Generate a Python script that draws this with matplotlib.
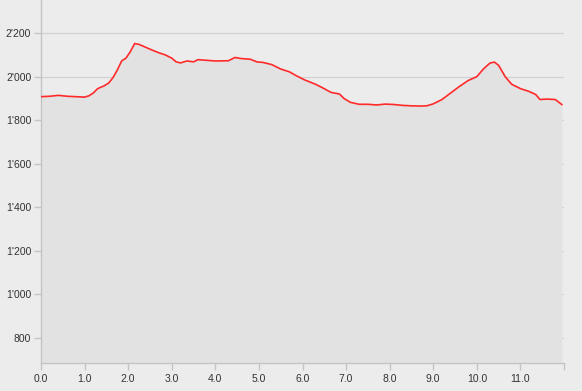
import matplotlib.pyplot as plt
from matplotlib.ticker import FuncFormatter

# elevation profile (km, m)
dist_km = [0.0, 0.2, 0.4, 0.6, 0.8, 1.0, 1.1, 1.2, 1.3, 1.45, 1.55, 1.65, 1.75,
           1.85, 1.95, 2.05, 2.15, 2.25, 2.4, 2.55, 2.7, 2.85, 3.0, 3.1, 3.2,
           3.35, 3.5, 3.6, 3.8, 4.0, 4.3, 4.45, 4.6, 4.8, 4.95, 5.1, 5.3, 5.5,
           5.7, 5.85, 6.05, 6.3, 6.45, 6.65, 6.85, 6.95, 7.1, 7.3, 7.5, 7.7,
           7.9, 8.1, 8.3, 8.5, 8.7, 8.85, 9.0, 9.2, 9.4, 9.6, 9.8, 10.0, 10.15,
           10.3, 10.4, 10.5, 10.65, 10.8, 11.0, 11.2, 11.35, 11.45, 11.6, 11.8,
           11.95]
elev_m = [1908, 1910, 1914, 1910, 1908, 1906, 1912, 1925, 1945, 1958, 1970,
          1995, 2030, 2072, 2085, 2115, 2152, 2148, 2135, 2122, 2110, 2100,
          2085, 2068, 2063, 2072, 2068, 2078, 2075, 2072, 2073, 2088, 2083,
          2080, 2068, 2065, 2055, 2035, 2022, 2005, 1985, 1965, 1950, 1928,
          1920, 1900, 1882, 1873, 1873, 1870, 1874, 1872, 1868, 1866, 1865,
          1866, 1875, 1895, 1925, 1955, 1982, 2000, 2035, 2062, 2067, 2052,
          2000, 1965, 1945, 1932, 1918, 1895, 1897, 1895, 1872]

x_ticks = [0, 1, 2, 3, 4, 5, 6, 7, 8, 9, 10, 11, 12]
y_ticks = [800, 1000, 1200, 1400, 1600, 1800, 2000, 2200]

plt.rcParams['font.family'] = ['Liberation Sans', 'DejaVu Sans']

fig = plt.figure(figsize=(5.82, 3.91), dpi=100, facecolor='#ececec')
ax = fig.add_axes([41 / 582, 28 / 391, 523 / 582, 363 / 391])
ax.set_facecolor('#ececec')

ax.fill_between(dist_km, elev_m, 680, color='#e2e2e2', zorder=2, lw=0)
ax.plot(dist_km, elev_m, color='#ff2a2a', lw=1.2, zorder=3)

ax.set_xlim(0, 12)
ax.set_ylim(685, 2352)
ax.set_xticks(x_ticks)
ax.set_xticklabels([f"{t:.1f}" for t in x_ticks[:-1]] + [""])
ax.set_yticks(y_ticks)
ax.yaxis.set_major_formatter(FuncFormatter(lambda v, p: f"{int(v):,}".replace(",", "'")))

ax.grid(axis='y', color='#d2d2d2', lw=0.9, zorder=1)
for side in ['top', 'right']:
    ax.spines[side].set_visible(False)
for side in ['left', 'bottom']:
    ax.spines[side].set_color('#c4c4c4')
    ax.spines[side].set_linewidth(1)
ax.tick_params(colors='#c4c4c4', labelcolor='#333333', labelsize=7.5,
               length=5, width=1)
ax.tick_params(axis='x', pad=3)
ax.tick_params(axis='y', pad=2)

fig.savefig('out.png', dpi=100, facecolor=fig.get_facecolor())
